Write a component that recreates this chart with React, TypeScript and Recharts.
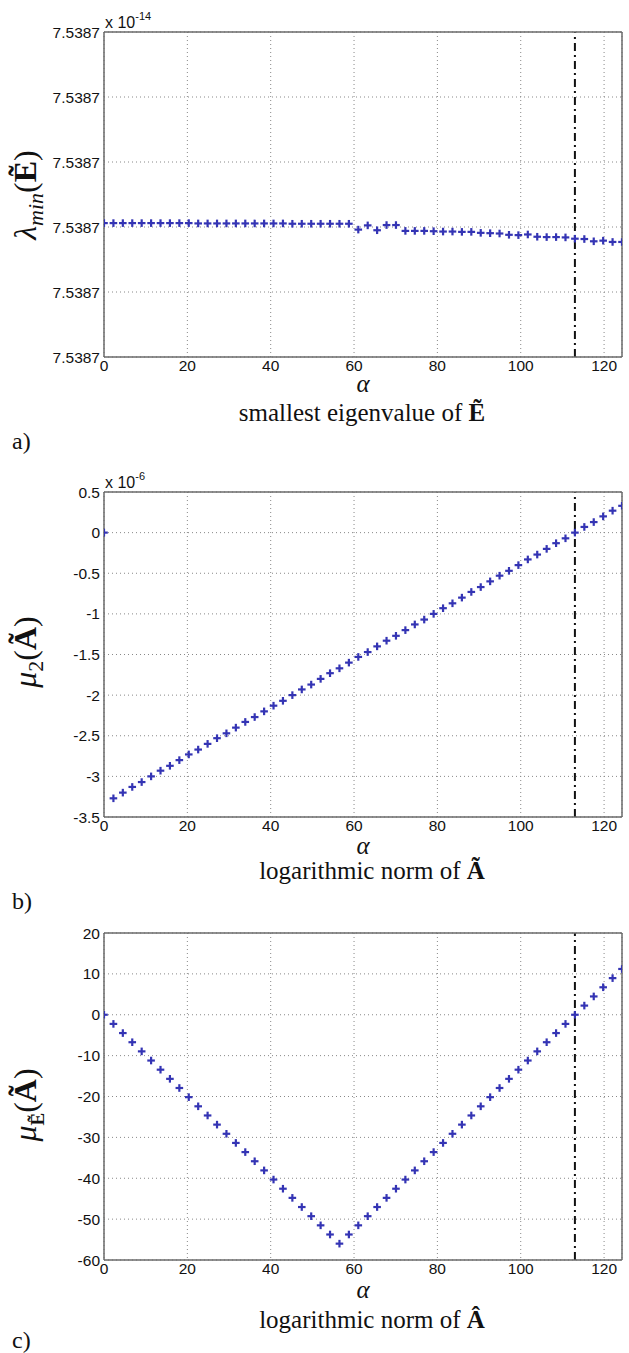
import React from 'react';
import { ScatterChart, Scatter, XAxis, YAxis, CartesianGrid, ReferenceLine } from 'recharts';

const alphaValues = [
  0, 2.26, 4.52, 6.78, 9.04, 11.3, 13.56, 15.82, 18.08, 20.34, 22.6, 24.86, 27.12, 29.38,
  31.64, 33.9, 36.16, 38.42, 40.68, 42.94, 45.2, 47.46, 49.72, 51.98, 54.24, 56.5, 58.76,
  61.02, 63.28, 65.54, 67.8, 70.06, 72.32, 74.58, 76.84, 79.1, 81.36, 83.62, 85.88, 88.14,
  90.4, 92.66, 94.92, 97.18, 99.44, 101.7, 103.96, 106.22, 108.48, 110.74, 113, 115.26,
  117.52, 119.78, 122.04, 124.3,
];

// panel a: smallest eigenvalue, in tick-step units (every tick reads 7.5387 x 1e-14)
const lambdaMinValues = [
  2.06, 2.06, 2.06, 2.06, 2.06, 2.06, 2.06, 2.06, 2.06, 2.06,
  2.055, 2.055, 2.055, 2.055, 2.055, 2.055, 2.055, 2.055, 2.055, 2.055,
  2.05, 2.05, 2.05, 2.05, 2.05, 2.05, 2.05,
  1.96, 2.025, 1.95, 2.03, 2.03,
  1.94, 1.94, 1.94, 1.935, 1.93, 1.93, 1.925, 1.925, 1.91, 1.905, 1.9, 1.88,
  1.875, 1.885, 1.85, 1.845, 1.845, 1.84, 1.82, 1.815, 1.78, 1.79, 1.77, 1.77,
];
const lambdaTicks = [0, 1, 2, 3, 4, 5];
const lambdaTickLabel = '7.5387';

// panel b: mu_2(A~) x 1e-6
const mu2Values = [
  0, -3.27, -3.2, -3.13, -3.07, -3.0, -2.93, -2.87, -2.8, -2.73, -2.67, -2.6, -2.53, -2.47,
  -2.4, -2.33, -2.27, -2.2, -2.13, -2.07, -2.0, -1.93, -1.87, -1.8, -1.73, -1.67, -1.6,
  -1.53, -1.47, -1.4, -1.33, -1.27, -1.2, -1.13, -1.07, -1.0, -0.93, -0.87, -0.8, -0.73,
  -0.67, -0.6, -0.53, -0.47, -0.4, -0.33, -0.27, -0.2, -0.13, -0.07, 0.0, 0.07, 0.13, 0.2,
  0.27, 0.33,
];
const mu2Ticks = [-3.5, -3, -2.5, -2, -1.5, -1, -0.5, 0, 0.5];

// panel c: mu_E~(A~)
const muEValues = [
  0, -2.24, -4.48, -6.72, -8.96, -11.2, -13.44, -15.68, -17.92, -20.16, -22.4, -24.64,
  -26.88, -29.12, -31.36, -33.6, -35.84, -38.08, -40.32, -42.56, -44.8, -47.04, -49.28,
  -51.52, -53.76, -56, -53.76, -51.52, -49.28, -47.04, -44.8, -42.56, -40.32, -38.08,
  -35.84, -33.6, -31.36, -29.12, -26.88, -24.64, -22.4, -20.16, -17.92, -15.68, -13.44,
  -11.2, -8.96, -6.72, -4.48, -2.24, 0, 2.24, 4.48, 6.72, 8.96, 11.2,
];
const muETicks = [-60, -50, -40, -30, -20, -10, 0, 10, 20];

const xTicks = [0, 20, 40, 60, 80, 100, 120];
const xDomain = [0, 124.3];
const alphaCritical = 113;

const BLUE = '#3434b4';
const AXIS = '#6a6a6a';
const SANS = '"Liberation Sans", Arial, sans-serif';
const SERIF = '"Liberation Serif", "DejaVu Serif", serif';

const Plus = (props: any) => {
  const { cx, cy } = props;
  if (cx == null || cy == null) return null;
  const a = 3.8;
  return (
    <g>
      <line x1={cx - a} y1={cy} x2={cx + a} y2={cy} stroke={BLUE} strokeWidth={2.2} />
      <line x1={cx} y1={cy - a} x2={cx} y2={cy + a} stroke={BLUE} strokeWidth={2.2} />
    </g>
  );
};

function Panel(props: {
  top: number;
  plotHeight: number;
  values: number[];
  yDomain: number[];
  yTicks: number[];
  yFormat: (v: number) => string;
}) {
  const { top, plotHeight, values, yDomain, yTicks, yFormat } = props;
  const data = alphaValues.map((x, i) => ({ x, y: values[i] }));
  const height = 32 + plotHeight + 24;
  const tickStyle = { fill: '#111', fontSize: 15.5, fontFamily: SANS };
  return (
    <div style={{ position: 'absolute', left: 0, top }}>
      <ScatterChart width={629} height={height} margin={{ top: 32, right: 7, bottom: 0, left: 0 }}>
        <CartesianGrid xAxisId="x" yAxisId="y" stroke="#888" strokeDasharray="1 3" />
        <XAxis
          xAxisId="x"
          dataKey="x"
          type="number"
          domain={xDomain}
          allowDataOverflow
          ticks={xTicks}
          interval={0}
          height={24}
          tickLine={false}
          tickSize={0}
          tickMargin={3}
          axisLine={{ stroke: AXIS, strokeWidth: 1.5 }}
          tick={tickStyle}
        />
        <XAxis
          xAxisId="xt"
          orientation="top"
          mirror
          type="number"
          domain={xDomain}
          allowDataOverflow
          ticks={xTicks}
          interval={0}
          tick={false}
          tickSize={5}
          tickLine={{ stroke: AXIS }}
          axisLine={{ stroke: AXIS, strokeWidth: 1.5 }}
        />
        <XAxis
          xAxisId="xb"
          orientation="bottom"
          mirror
          type="number"
          domain={xDomain}
          allowDataOverflow
          ticks={xTicks}
          interval={0}
          tick={false}
          tickSize={5}
          tickLine={{ stroke: AXIS }}
          axisLine={false}
        />
        <YAxis
          yAxisId="y"
          dataKey="y"
          type="number"
          domain={yDomain}
          allowDataOverflow
          ticks={yTicks}
          interval={0}
          width={104}
          tickLine={false}
          tickSize={0}
          tickMargin={4}
          tickFormatter={yFormat}
          axisLine={{ stroke: AXIS, strokeWidth: 1.5 }}
          tick={tickStyle}
        />
        <YAxis
          yAxisId="yr"
          orientation="right"
          mirror
          type="number"
          domain={yDomain}
          allowDataOverflow
          ticks={yTicks}
          interval={0}
          tick={false}
          tickSize={5}
          tickLine={{ stroke: AXIS }}
          axisLine={{ stroke: AXIS, strokeWidth: 1.5 }}
        />
        <YAxis
          yAxisId="yl"
          orientation="left"
          mirror
          type="number"
          domain={yDomain}
          allowDataOverflow
          ticks={yTicks}
          interval={0}
          tick={false}
          tickSize={5}
          tickLine={{ stroke: AXIS }}
          axisLine={false}
        />
        <ReferenceLine
          xAxisId="x"
          yAxisId="y"
          x={alphaCritical}
          stroke="#111"
          strokeWidth={2}
          strokeDasharray="8 4 2 4"
        />
        <Scatter xAxisId="x" yAxisId="y" data={data} shape={Plus} isAnimationActive={false} />
      </ScatterChart>
    </div>
  );
}

const fmtNum = (v: number) => (v === 0 ? '0' : String(v));

export default function App() {
  return (
    <div style={{ position: 'absolute', left: 0, top: 0, width: 629, height: 1353, background: '#fff', overflow: 'hidden' }}>
      <Panel top={0} plotHeight={325} values={lambdaMinValues} yDomain={[0, 5]} yTicks={lambdaTicks} yFormat={() => lambdaTickLabel} />
      <Panel top={460} plotHeight={325} values={mu2Values} yDomain={[-3.5, 0.5]} yTicks={mu2Ticks} yFormat={fmtNum} />
      <Panel top={901} plotHeight={327} values={muEValues} yDomain={[-60, 20]} yTicks={muETicks} yFormat={fmtNum} />
      <svg width={629} height={1353} style={{ position: 'absolute', left: 0, top: 0, pointerEvents: 'none' }}>
        {/* panel a */}
        <text x={105} y={28} fontFamily={SANS} fontSize={16} fill="#111">
          x 10<tspan dy={-8} fontSize={11}>-14</tspan>
        </text>
        <text transform="translate(36,195) rotate(-90)" textAnchor="middle" fontFamily={SERIF} fontSize={32} fill="#111">
          <tspan fontStyle="italic">λ</tspan>
          <tspan fontStyle="italic" fontSize={22} dy={7}>min</tspan>
          <tspan dy={-7}>(</tspan>
          <tspan fontWeight="bold">E&#x0303;</tspan>
          <tspan>)</tspan>
        </text>
        <text x={363} y={392} textAnchor="middle" fontFamily={SERIF} fontStyle="italic" fontSize={25} fill="#111">α</text>
        <text x={362} y={421} textAnchor="middle" fontFamily={SERIF} fontSize={25} fill="#111">
          smallest eigenvalue of <tspan fontWeight="bold">E&#x0303;</tspan>
        </text>
        <text x={12} y={449} fontFamily={SERIF} fontSize={24} fill="#111">a)</text>

        {/* panel b */}
        <text x={105} y={488} fontFamily={SANS} fontSize={16} fill="#111">
          x 10<tspan dy={-8} fontSize={11}>-6</tspan>
        </text>
        <text transform="translate(36,652) rotate(-90)" textAnchor="middle" fontFamily={SERIF} fontSize={32} fill="#111">
          <tspan fontStyle="italic">μ</tspan>
          <tspan fontSize={22} dy={7}>2</tspan>
          <tspan dy={-7}>(</tspan>
          <tspan fontWeight="bold">A&#x0303;</tspan>
          <tspan>)</tspan>
        </text>
        <text x={363} y={854} textAnchor="middle" fontFamily={SERIF} fontStyle="italic" fontSize={25} fill="#111">α</text>
        <text x={372} y={879} textAnchor="middle" fontFamily={SERIF} fontSize={25} fill="#111">
          logarithmic norm of <tspan fontWeight="bold">A&#x0303;</tspan>
        </text>
        <text x={12} y={909} fontFamily={SERIF} fontSize={24} fill="#111">b)</text>

        {/* panel c */}
        <text transform="translate(36,1105) rotate(-90)" textAnchor="middle" fontFamily={SERIF} fontSize={32} fill="#111">
          <tspan fontStyle="italic">μ</tspan>
          <tspan fontWeight="bold" fontSize={19} dy={8}>E&#x0303;</tspan>
          <tspan dy={-8}>(</tspan>
          <tspan fontWeight="bold">A&#x0303;</tspan>
          <tspan>)</tspan>
        </text>
        <text x={363} y={1298} textAnchor="middle" fontFamily={SERIF} fontStyle="italic" fontSize={25} fill="#111">α</text>
        <text x={372} y={1328} textAnchor="middle" fontFamily={SERIF} fontSize={25} fill="#111">
          logarithmic norm of <tspan fontWeight="bold">A&#x0302;</tspan>
        </text>
        <text x={12} y={1348} fontFamily={SERIF} fontSize={24} fill="#111">c)</text>
      </svg>
    </div>
  );
}
